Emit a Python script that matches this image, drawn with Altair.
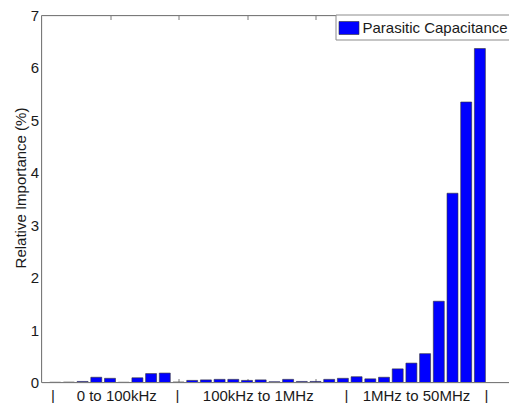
import altair as alt
import pandas as pd

# ---- data ----
bar_index = list(range(1, 33))
importance = [0.005, 0.008, 0.02, 0.10, 0.08, 0.005, 0.09, 0.17, 0.18, 0.01,
              0.04, 0.05, 0.06, 0.06, 0.04, 0.05, 0.015, 0.06, 0.02, 0.02,
              0.06, 0.08, 0.11, 0.07, 0.10, 0.26, 0.37, 0.55, 1.55, 3.61,
              5.35, 6.37]
series_name = "Parasitic Capacitance"
y_ticks = [0, 1, 2, 3, 4, 5, 6, 7]
x_ticks = [5, 10, 15, 20, 25, 30]
x_range = [0, 35]
y_range = [0, 7]
band_text = ["|", "0 to 100kHz", "|", "100kHz to 1MHz", "|", "1MHz to 50MHz", "|"]
band_x = [0.84, 5.49, 9.92, 15.82, 22.26, 27.37, 32.47]

W = 479.5
H = 367
PAD_L, PAD_T, PAD_R, PAD_B = 33.5, 7.5, -12, 20.5
FONT = "Liberation Sans"
AXC = "#7a7a7a"
TXT = "#1a1a1a"

df = pd.DataFrame({"k": bar_index, "v": importance, "s": [series_name] * len(bar_index)})
lab = pd.DataFrame({"x": band_x, "t": band_text})
one = pd.DataFrame({"a": [0]})

xscale = alt.Scale(domain=x_range, nice=False, zero=False, padding=0)
yscale = alt.Scale(domain=y_range, nice=False, padding=0)

bars = alt.Chart(df).transform_calculate(
    x0="datum.k - 0.4", x1="datum.k + 0.4"
).mark_bar(stroke="#333333", strokeWidth=0.6).encode(
    x=alt.X("x0:Q", scale=xscale,
            axis=alt.Axis(orient="bottom", offset=-4, values=x_ticks, labels=False,
                          domain=False, tickSize=4, tickColor=AXC, grid=False, title=None)),
    x2="x1:Q",
    y=alt.Y("v:Q", scale=yscale,
            axis=alt.Axis(orient="left", values=y_ticks, tickSize=0, labelPadding=3,
                          labelFont=FONT, labelFontSize=15, labelColor=TXT,
                          domain=False, grid=False,
                          title="Relative Importance (%)", titleFont=FONT, titleFontSize=15,
                          titleFontWeight="normal", titleColor=TXT,
                          titleX=-21, titleY=172, titleAngle=270,
                          titleAlign="center", titleBaseline="middle")),
    y2=alt.datum(0),
    color=alt.Color("s:N", scale=alt.Scale(range=["#0000ff"]),
                    legend=alt.Legend(orient="none", legendX=294, legendY=-1, title=None,
                                      symbolType="M-1,-0.65H1V0.65H-1Z", symbolSize=400,
                                      symbolStrokeColor="#333333", symbolStrokeWidth=0.6,
                                      labelFont=FONT, labelFontSize=15, labelColor=TXT,
                                      labelLimit=300, labelOffset=3, padding=3,
                                      fillColor="white", strokeColor="#8c8c8c")),
)

labels = alt.Chart(lab).mark_text(font=FONT, fontSize=15, color=TXT, baseline="alphabetic",
                                  align="center").encode(
    x=alt.X("x:Q", scale=xscale,
            axis=alt.Axis(orient="top", offset=-4, values=x_ticks, labels=False,
                          domain=False, tickSize=4, tickColor=AXC, grid=False, title=None)),
    y=alt.value(H + 18),
    text="t:N",
)

top_spine = alt.Chart(one).mark_rule(color=AXC, strokeWidth=1).encode(
    x=alt.X(datum=x_range[0], axis=None),
    x2=alt.X2(datum=x_range[1]),
    y=alt.Y(datum=y_range[1], axis=None),
)
bottom_spine = alt.Chart(one).mark_rule(color=AXC, strokeWidth=1).encode(
    x=alt.X(datum=x_range[0], axis=None),
    x2=alt.X2(datum=x_range[1]),
    y=alt.Y(datum=y_range[0], axis=None),
)
left_spine = alt.Chart(one).mark_rule(color=AXC, strokeWidth=1).encode(
    x=alt.X(datum=x_range[0], axis=None),
    y=alt.Y(datum=y_range[0], axis=None),
    y2=alt.Y2(datum=y_range[1]),
)

chart = alt.layer(bars, labels, top_spine, bottom_spine, left_spine).resolve_axis(
    x="independent", y="independent"
).properties(
    width=W, height=H,
    autosize=alt.AutoSizeParams(type="none"),
    padding={"left": PAD_L, "top": PAD_T, "right": PAD_R, "bottom": PAD_B},
).configure_view(stroke=AXC, strokeWidth=1).configure(font=FONT)

chart.save("out.html", embed_options={"renderer": "svg", "actions": False})
